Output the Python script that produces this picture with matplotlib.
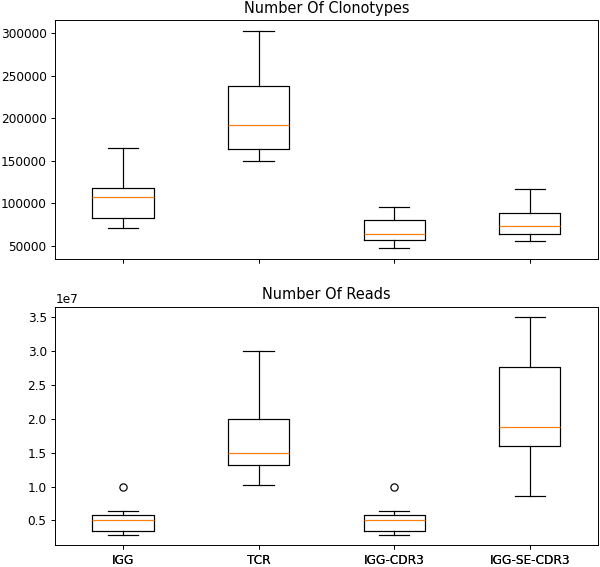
import matplotlib
matplotlib.use('Agg')
import matplotlib.pyplot as plt

# sample groups
labels = ['IGG', 'TCR', 'IGG-CDR3', 'IGG-SE-CDR3']

# number of clonotypes: box statistics per group
clono_lo = [71300, 149100, 47600, 55800]
clono_q1 = [82600, 163500, 57300, 64300]
clono_med = [107000, 191900, 64300, 72900]
clono_q3 = [118000, 237400, 80200, 88400]
clono_hi = [165000, 302700, 95400, 116900]
clono_fliers = [[], [], [], []]

# number of reads: box statistics per group
reads_lo = [0.289e7, 1.018e7, 0.289e7, 0.855e7]
reads_q1 = [0.343e7, 1.321e7, 0.343e7, 1.606e7]
reads_med = [0.50e7, 1.50e7, 0.50e7, 1.874e7]
reads_q3 = [0.572e7, 2.00e7, 0.572e7, 2.766e7]
reads_hi = [0.645e7, 3.00e7, 0.645e7, 3.50e7]
reads_fliers = [[1.0e7], [], [1.0e7], []]


def make_stats(lo, q1, med, q3, hi, fliers):
    stats = []
    for i in range(len(labels)):
        stats.append(dict(label=labels[i], whislo=lo[i], q1=q1[i], med=med[i],
                          q3=q3[i], whishi=hi[i], fliers=fliers[i]))
    return stats


DPI = 87
fig, (ax1, ax2) = plt.subplots(2, 1, sharex=True,
                               figsize=(600 / DPI, 567 / DPI), dpi=DPI)
fig.subplots_adjust(left=0.092, right=0.996, top=0.965, bottom=0.038, hspace=0.2)

ax1.bxp(make_stats(clono_lo, clono_q1, clono_med, clono_q3, clono_hi, clono_fliers))
ax1.set_title('Number Of Clonotypes')

ax2.bxp(make_stats(reads_lo, reads_q1, reads_med, reads_q3, reads_hi, reads_fliers))
ax2.set_title('Number Of Reads')

fig.savefig('out.png', dpi=DPI)
